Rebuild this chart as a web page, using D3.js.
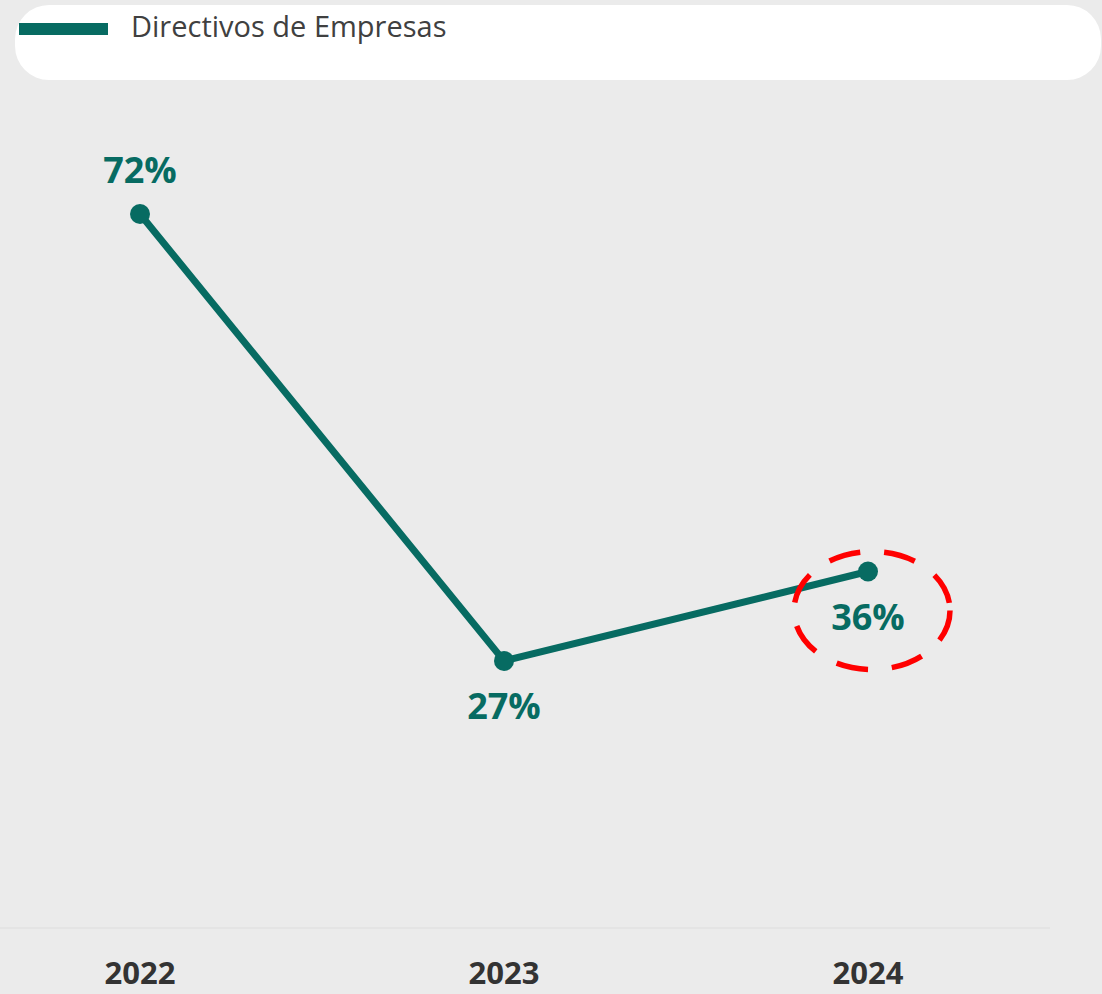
<html>
<head>
<script src="https://d3js.org/d3.v7.min.js"></script>
<style>
  body { margin: 0; background: #ebebeb; }
  svg { display: block; }
  text { font-family: "Open Sans", sans-serif; }
</style>
</head>
<body>
<svg width="1102" height="994"></svg>
<script>
var years = ["2022", "2023", "2024"];
var values = [72, 27, 36];
var seriesName = "Directivos de Empresas";
var highlightYear = "2024";

var green = "#076b62";
var svg = d3.select("svg");

var x = d3.scalePoint().domain(years).range([140, 868]);
var y = d3.scaleLinear().domain([0, 80]).range([929, 134.6]);

// legend box
svg.append("rect")
  .attr("x", 15).attr("y", 5)
  .attr("width", 1086).attr("height", 75)
  .attr("rx", 34).attr("ry", 34)
  .style("fill", "white");
svg.append("rect")
  .attr("x", 19).attr("y", 23).attr("width", 89).attr("height", 12)
  .style("fill", green);
svg.append("text")
  .attr("x", 131).attr("y", 37)
  .style("font-size", "29px")
  .style("fill", "#404040")
  .text(seriesName);

// baseline
svg.append("line")
  .attr("x1", 0).attr("x2", 1050)
  .attr("y1", y(0) - 1).attr("y2", y(0) - 1)
  .style("stroke", "#e4e4e4").style("stroke-width", 2);

// year labels
svg.selectAll(".year").data(years).enter().append("text")
  .attr("class", "year")
  .attr("x", function(d) { return x(d); })
  .attr("y", 984)
  .attr("text-anchor", "middle")
  .style("font-size", "31px").style("font-weight", "bold")
  .style("fill", "#333333")
  .text(function(d) { return d; });

// line
var line = d3.line()
  .x(function(d, i) { return x(years[i]); })
  .y(function(d) { return y(d); });
svg.append("path")
  .datum(values)
  .attr("d", line)
  .style("fill", "none").style("stroke", green).style("stroke-width", 7);

svg.selectAll(".dot").data(values).enter().append("circle")
  .attr("class", "dot")
  .attr("cx", function(d, i) { return x(years[i]); })
  .attr("cy", function(d) { return y(d); })
  .attr("r", 10)
  .style("fill", green);

// value labels: first above, rest below
svg.selectAll(".lbl").data(values).enter().append("text")
  .attr("class", "lbl")
  .attr("x", function(d, i) { return x(years[i]); })
  .attr("y", function(d, i) { return i == 0 ? y(d) - 31 : y(d) + 58; })
  .attr("text-anchor", "middle")
  .style("font-size", "36px").style("font-weight", "bold")
  .style("fill", green)
  .text(function(d) { return d + "%"; });

// red dashed highlight
var hi = years.indexOf(highlightYear);
svg.append("ellipse")
  .attr("cx", x(highlightYear) + 4)
  .attr("cy", y(values[hi]) + 39)
  .attr("rx", 78).attr("ry", 59)
  .style("fill", "none").style("stroke", "#ff0000")
  .style("stroke-width", 5.5)
  .style("stroke-dasharray", "32 24");
</script>
</body>
</html>
